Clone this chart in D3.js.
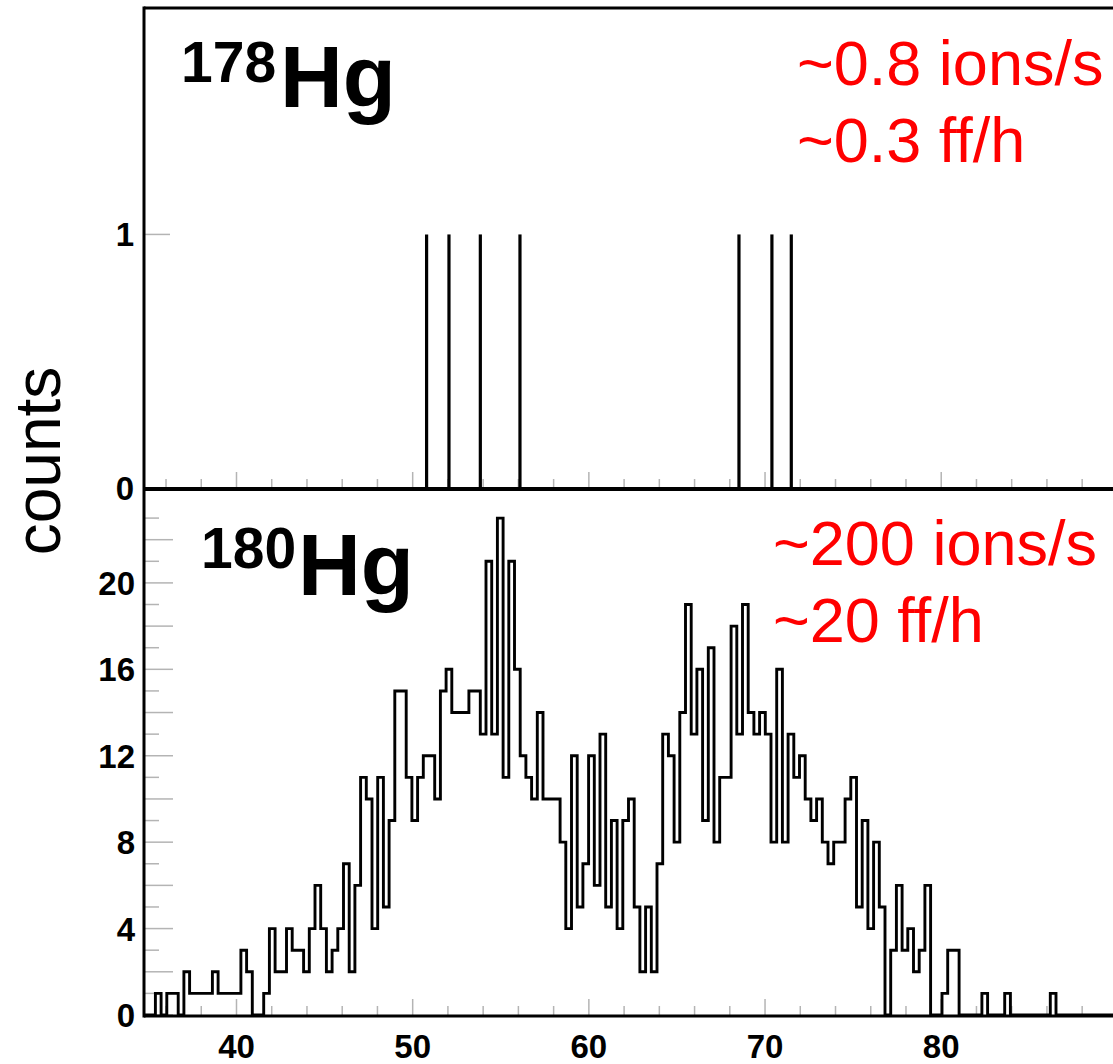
<!DOCTYPE html>
<html>
<head>
<meta charset="utf-8">
<script src="https://cdn.jsdelivr.net/npm/d3@7"></script>
<style>
  body { margin: 0; background: #fff; }
  svg { display: block; }
  text { font-family: "Liberation Sans", Arial, Helvetica, sans-serif; }
</style>
</head>
<body>
<div id="chart"></div>
<script>
// histogram binning of the lower panel (170 bins over the axis range)
const binLow = 34.75;
const binHigh = 89.75;
const nBins = 170;

// 180Hg: counts per bin
const hg180Counts = [
  0, 0, 1, 0, 1, 1, 0, 2, 1, 1, 1, 1, 2, 1, 1, 1, 1, 3, 2, 0,
  0, 1, 4, 2, 2, 4, 3, 3, 2, 4, 6, 4, 2, 3, 4, 7, 2, 6, 11, 10,
  4, 11, 5, 9, 15, 15, 11, 9, 11, 12, 12, 10, 15, 16, 14, 14, 14, 15, 15, 13,
  21, 13, 23, 11, 21, 16, 12, 11, 10, 14, 10, 10, 10, 8, 4, 12, 5, 7, 12, 6,
  13, 5, 9, 4, 9, 10, 5, 2, 5, 2, 7, 13, 12, 8, 14, 19, 13, 16, 9, 17,
  8, 11, 11, 18, 13, 19, 14, 13, 14, 13, 8, 16, 8, 13, 11, 12, 10, 9, 10, 8,
  7, 8, 8, 10, 11, 5, 9, 4, 8, 5, 0, 3, 6, 3, 4, 2, 3, 6, 0, 0,
  1, 3, 3, 0, 0, 0, 0, 1, 0, 0, 0, 1, 0, 0, 0, 0, 0, 0, 0, 1,
  0, 0, 0, 0, 0, 0, 0, 0, 0, 0
];

// 178Hg: single events (one count each)
const hg178Events = [50.79, 52.06, 53.84, 56.09, 68.52, 70.39, 71.49];

const xTickLabels = [40, 50, 60, 70, 80];
const topYLabels = [0, 1];
const bottomYLabels = [0, 4, 8, 12, 16, 20];

const ratesTop = ["~0.8 ions/s", "~0.3 ff/h"];
const ratesBottom = ["~200 ions/s", "~20 ff/h"];

const width = 1113, height = 1064;
const plotLeft = 144, plotRight = 1113;

const svg = d3.select("#chart").append("svg")
    .attr("width", width)
    .attr("height", height);

svg.append("rect").attr("width", width).attr("height", height).attr("fill", "#fff");

const x = d3.scaleLinear().domain([binLow, binHigh]).range([plotLeft, plotRight]);
const yTop = d3.scaleLinear().domain([0, 1.893]).range([488, 8]);
const yBot = d3.scaleLinear().domain([0, 24.3]).range([1015, 490]);

const tickColor = "#b4b4b4";

// x ticks (both panels), drawn upward from the panel floor
function xTicks(y0) {
    const vals = d3.range(36, 90, 2);
    svg.append("g").selectAll("line")
        .data(vals)
        .enter().append("line")
        .attr("x1", d => x(d)).attr("x2", d => x(d))
        .attr("y1", y0)
        .attr("y2", d => y0 - (d % 10 === 0 ? 16 : 9))
        .attr("stroke", tickColor)
        .attr("stroke-width", 1.5);
}
xTicks(yTop(0));
xTicks(yBot(0));

// y ticks
svg.append("g").selectAll("line")
    .data(d3.range(0, 24))
    .enter().append("line")
    .attr("x1", plotLeft).attr("x2", d => plotLeft + (d % 2 === 0 ? 29 : 15))
    .attr("y1", d => yBot(d)).attr("y2", d => yBot(d))
    .attr("stroke", tickColor)
    .attr("stroke-width", 1.5);

svg.append("line")
    .attr("x1", plotLeft).attr("x2", plotLeft + 26)
    .attr("y1", yTop(1)).attr("y2", yTop(1))
    .attr("stroke", tickColor)
    .attr("stroke-width", 1.5);

// 178Hg spikes
svg.append("g").selectAll("line")
    .data(hg178Events)
    .enter().append("line")
    .attr("x1", d => x(d)).attr("x2", d => x(d))
    .attr("y1", yTop(0)).attr("y2", yTop(1))
    .attr("stroke", "#000")
    .attr("stroke-width", 3.2);

// 180Hg histogram outline
const binW = (binHigh - binLow) / nBins;
const pts = hg180Counts.map((c, i) => [binLow + i * binW, c]);
pts.push([binHigh, 0]);

const step = d3.line()
    .x(d => x(d[0]))
    .y(d => yBot(d[1]))
    .curve(d3.curveStepAfter);

svg.append("path")
    .datum(pts)
    .attr("d", step)
    .attr("fill", "none")
    .attr("stroke", "#000")
    .attr("stroke-width", 2.9)
    .attr("stroke-linejoin", "miter");

// frame
const frame = svg.append("g").attr("stroke", "#000").attr("fill", "none");
frame.append("line").attr("x1", plotLeft).attr("x2", plotLeft).attr("y1", 6.5).attr("y2", 1017.5).attr("stroke-width", 3);
frame.append("line").attr("x1", plotLeft).attr("x2", width + 2).attr("y1", 8).attr("y2", 8).attr("stroke-width", 3);
frame.append("line").attr("x1", plotLeft).attr("x2", width + 2).attr("y1", 489).attr("y2", 489).attr("stroke-width", 4);
frame.append("line").attr("x1", plotLeft).attr("x2", width + 2).attr("y1", 1016).attr("y2", 1016).attr("stroke-width", 3);

// axis labels
svg.append("g").selectAll("text")
    .data(xTickLabels)
    .enter().append("text")
    .attr("x", d => x(d))
    .attr("y", 1058)
    .attr("text-anchor", "middle")
    .attr("font-size", 33)
    .attr("font-weight", "bold")
    .text(d => d);

svg.append("g").selectAll("text")
    .data(bottomYLabels)
    .enter().append("text")
    .attr("x", 135)
    .attr("y", d => yBot(d) + 12)
    .attr("text-anchor", "end")
    .attr("font-size", 33)
    .attr("font-weight", "bold")
    .text(d => d);

svg.append("g").selectAll("text")
    .data(topYLabels)
    .enter().append("text")
    .attr("x", 134)
    .attr("y", d => yTop(d) + 12)
    .attr("text-anchor", "end")
    .attr("font-size", 33)
    .attr("font-weight", "bold")
    .text(d => d);

svg.append("text")
    .attr("transform", "translate(60,461) rotate(-90)")
    .attr("text-anchor", "middle")
    .attr("font-size", 64)
    .text("counts");

// isotope labels
function isotope(mass, sx, sy, hx, hy) {
    svg.append("text").attr("x", sx).attr("y", sy)
        .attr("font-size", 57).attr("font-weight", "bold").text(mass);
    svg.append("text").attr("x", hx).attr("y", hy)
        .attr("font-size", 87).attr("font-weight", "bold").text("Hg");
}
isotope("178", 181, 82, 280, 107);
isotope("180", 201, 568, 298, 595);

// rate annotations (red, right part of each panel)
function rates(lines, x0, y0, dy) {
    svg.append("g").selectAll("text")
        .data(lines)
        .enter().append("text")
        .attr("x", x0)
        .attr("y", (d, i) => y0 + i * dy)
        .attr("font-size", 63)
        .attr("fill", "#ff0000")
        .text(d => d);
}
rates(ratesTop, 797, 85, 77);
rates(ratesBottom, 773, 565, 77);
</script>
</body>
</html>
